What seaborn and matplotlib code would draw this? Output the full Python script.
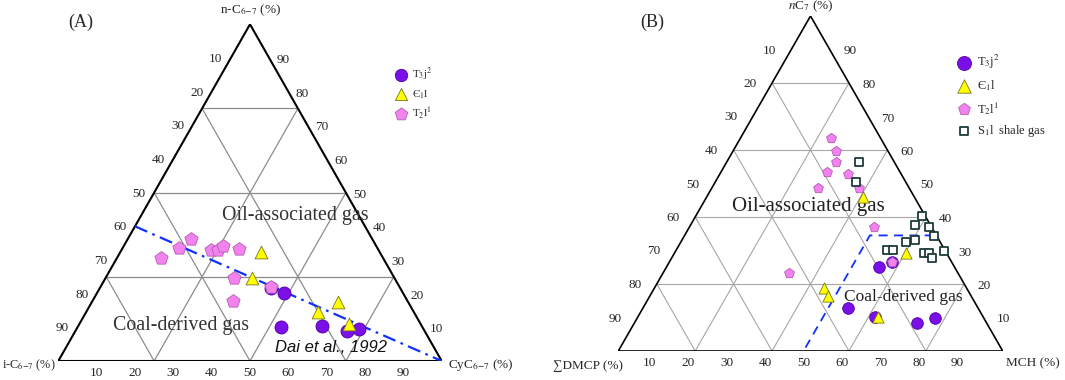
import numpy as np
import pandas as pd
import matplotlib.pyplot as plt
import seaborn as sns

sns.set_theme(style="white")
plt.rcParams['font.family'] = ['Liberation Serif', 'DejaVu Serif']
plt.rcParams['mathtext.fontset'] = 'stix'

# ---- panel A data: CyC6-7 (%) and n-C6-7 (%) ----
a_t3j2_cy = [44.5, 48.6, 52.9, 63.6, 70.7, 73.8]
a_t3j2_n = [21.8, 20.3, 10.2, 10.5, 9.0, 9.4]
a_e1l_cy = [36.6, 38.3, 60.5, 64.2, 70.3]
a_e1l_n = [32.5, 24.6, 14.6, 17.4, 11.0]
a_t2l1_cy = [11.5, 14.8, 16.4, 23.3, 25.2, 25.8, 30.5, 33.6, 44.3, 36.5]
a_t2l1_n = [30.5, 33.6, 36.2, 33.0, 33.0, 34.2, 33.2, 24.6, 22.1, 17.9]
a_line_cy = [0, 100]
a_line_n = [40, 0]

# ---- panel B data: MCH (%) and nC7 (%) ----
b_t3j2_m = [55.3, 53.4, 61.7, 73.4, 77.4, 58.0]
b_t3j2_n = [25.2, 12.8, 10.1, 8.4, 9.9, 26.6]
b_e1l_m = [40.5, 60.1, 44.2, 46.4, 62.6]
b_e1l_n = [46.1, 29.4, 18.8, 16.5, 10.1]
b_t2l1_m = [23.5, 26.8, 28.3, 27.6, 33.5, 38.4, 27.7, 48.0, 58.0, 32.9]
b_t2l1_n = [63.5, 59.7, 56.5, 53.5, 52.7, 48.6, 48.6, 37.1, 26.6, 23.2]
b_s1l_m = [34.4, 36.6, 58.9, 58.3, 62.4, 65.0, 60.7, 58.7, 54.8, 56.3, 69.8, 65.0, 66.3, 67.7]
b_s1l_n = [56.5, 50.5, 40.4, 37.6, 37.1, 34.4, 33.0, 32.4, 30.1, 30.1, 29.9, 29.3, 29.3, 27.7]
b_line_m = [48.2, 48.2, 65.5]
b_line_n = [1.0, 34.5, 34.5]

ticks = [10, 20, 30, 40, 50, 60, 70, 80, 90]

W, H = 1065, 380
PT = 0.72  # points per pixel at dpi 100


def tern(right, top):
    right = np.asarray(right, dtype=float)
    top = np.asarray(top, dtype=float)
    return (right + top / 2) / 100, top / 100


def frame(ax, step, edge_lw, grid_color, grid_lw):
    for v in np.arange(step, 100, step):
        for r, t in [([0, 100 - v], [v, v]), ([v, v], [0, 100 - v]), ([0, 100 - v], [100 - v, 0])]:
            x, y = tern(r, t)
            ax.plot(x, y, color=grid_color, lw=grid_lw, zorder=1)
    x, y = tern([0, 100, 0, 0], [0, 0, 100, 0])
    ax.plot(x, y, color='black', lw=edge_lw, zorder=2, solid_joinstyle='miter')
    ax.set_xlim(0, 1)
    ax.set_ylim(0, 1)
    ax.set_axis_off()


def ticklabels(ax, left_off, right_off, bottom_off, fs):
    for k in ticks:
        x, y = tern(0, 100 - k)
        ax.annotate(str(k), (x, y), xytext=(left_off[0] * PT, left_off[1] * PT),
                    textcoords='offset points', ha='center', va='center', fontsize=fs)
        x, y = tern(100 - k, k)
        ax.annotate(str(k), (x, y), xytext=(right_off[0] * PT, right_off[1] * PT),
                    textcoords='offset points', ha='center', va='center', fontsize=fs)
        x, y = tern(k, 0)
        ax.annotate(str(k), (x, y), xytext=(bottom_off[0] * PT, bottom_off[1] * PT),
                    textcoords='offset points', ha='center', va='center', fontsize=fs)


def scatter(ax, r, t, marker, face, edge, s, lw, label):
    x, y = tern(r, t)
    df = pd.DataFrame({'x': x, 'y': y})
    sns.scatterplot(data=df, x='x', y='y', ax=ax, marker=marker, color=face,
                    edgecolor=edge, s=s, linewidth=lw, label=label, zorder=5, clip_on=False)


fig = plt.figure(figsize=(W / 100, H / 100), dpi=100)

# ================= panel A =================
axA = fig.add_axes([58.3 / W, 19 / H, 383.4 / W, 336.7 / H])
frame(axA, 25, 1.5, '#8c8c8c', 0.9)
ticklabels(axA, (-15, -1), (14, -2), (0, -12), 9.5)

x, y = tern(a_line_cy, a_line_n)
axA.plot(x, y, color='#1030ff', lw=1.6, ls=(0, (6, 2.5, 1.2, 2.5)), zorder=4)

scatter(axA, a_t3j2_cy, a_t3j2_n, 'o', '#7b0fe8', '#5200a0', 88, 0.6, r'T$_3$j$^2$')
scatter(axA, a_e1l_cy, a_e1l_n, '^', '#ffff00', '#77771a', 85, 0.6, r'Є$_1$l')
scatter(axA, a_t2l1_cy, a_t2l1_n, 'p', '#f283ee', '#b55cb5', 100, 0.6, r'T$_2$l$^1$')

axA.text(*tern(40.2, 43.1), 'Oil-associated gas', fontsize=14.4, ha='center', va='center', color='#333333')
axA.text(*tern(26.8, 10.4), 'Coal-derived gas', fontsize=14.3, ha='center', va='center', color='#333333')
axA.text(*tern(69.2, 3.9), 'Dai et al., 1992', fontsize=12, ha='center', va='center',
         family='Liberation Sans', style='italic', color='#111111')

axA.annotate(r'n-C$_{6\mathrm{-}7}$ (%)', (0.5, 1),
             xytext=(0, 14 * PT), textcoords='offset points', ha='center', va='center', fontsize=9.5)
axA.annotate(r'i-C$_{6\mathrm{-}7}$ (%)', (0, 0), xytext=(-3 * PT, -4 * PT),
             textcoords='offset points', ha='right', va='center', fontsize=8.8)
axA.annotate(r'CyC$_{6\mathrm{-}7}$ (%)', (1, 0), xytext=(6 * PT, -4 * PT),
             textcoords='offset points', ha='left', va='center', fontsize=9.5)

axA.legend(loc='upper left', bbox_to_anchor=(395 / W, 1 - 66 / H), bbox_transform=fig.transFigure,
           frameon=False, fontsize=8, handlelength=1.0, handletextpad=0.5, labelspacing=0.45,
           borderaxespad=0, borderpad=0, markerscale=0.95)
fig.text(80.5 / W, 1 - 22 / H, '(A)', fontsize=13, ha='center', va='center')

# ================= panel B =================
axB = fig.add_axes([618.3 / W, 29 / H, 384.4 / W, 335 / H])
frame(axB, 20, 1.2, '#a6a6a6', 0.8)
ticklabels(axB, (-22, -1), (20, -2), (-7, -12.5), 9.5)

x, y = tern(b_line_m, b_line_n)
axB.plot(x, y, color='#1030ff', lw=1.3, ls=(0, (5, 3.5)), zorder=4)

scatter(axB, b_t3j2_m, b_t3j2_n, 'o', '#7b0fe8', '#5200a0', 70, 0.6, r'T$_3$j$^2$')
scatter(axB, b_e1l_m, b_e1l_n, '^', '#ffff00', '#77771a', 65, 0.6, r'Є$_1$l')
scatter(axB, b_t2l1_m, b_t2l1_n, 'p', '#f283ee', '#b55cb5', 55, 0.6, r'T$_2$l$^1$')
scatter(axB, b_s1l_m, b_s1l_n, 's', 'white', '#1d3d3a', 26, 1.3, r'S$_1$l  shale gas')

axB.text(*tern(27.9, 43.2), 'Oil-associated gas', fontsize=15, ha='center', va='center', color='#222222')
axB.text(*tern(66.1, 16.2), 'Coal-derived gas', fontsize=12.5, ha='center', va='center', color='#222222')

axB.annotate(r'$n$C$_7$ (%)', (0.5, 1), xytext=(0, 10 * PT), textcoords='offset points',
             ha='center', va='center', fontsize=9.5)
axB.annotate('∑DMCP (%)', (0, 0), xytext=(5 * PT, -15 * PT), textcoords='offset points',
             ha='right', va='center', fontsize=9.5)
axB.annotate('MCH (%)', (1, 0), xytext=(3 * PT, -12 * PT), textcoords='offset points',
             ha='left', va='center', fontsize=9.5)

axB.legend(loc='upper left', bbox_to_anchor=(958 / W, 1 - 53 / H), bbox_transform=fig.transFigure,
           frameon=False, fontsize=9, handlelength=1.0, handletextpad=0.5, labelspacing=0.55,
           borderaxespad=0, borderpad=0, markerscale=1.2)
fig.text(652 / W, 1 - 22 / H, '(B)', fontsize=13, ha='center', va='center')

fig.savefig('out.png', dpi=100)
